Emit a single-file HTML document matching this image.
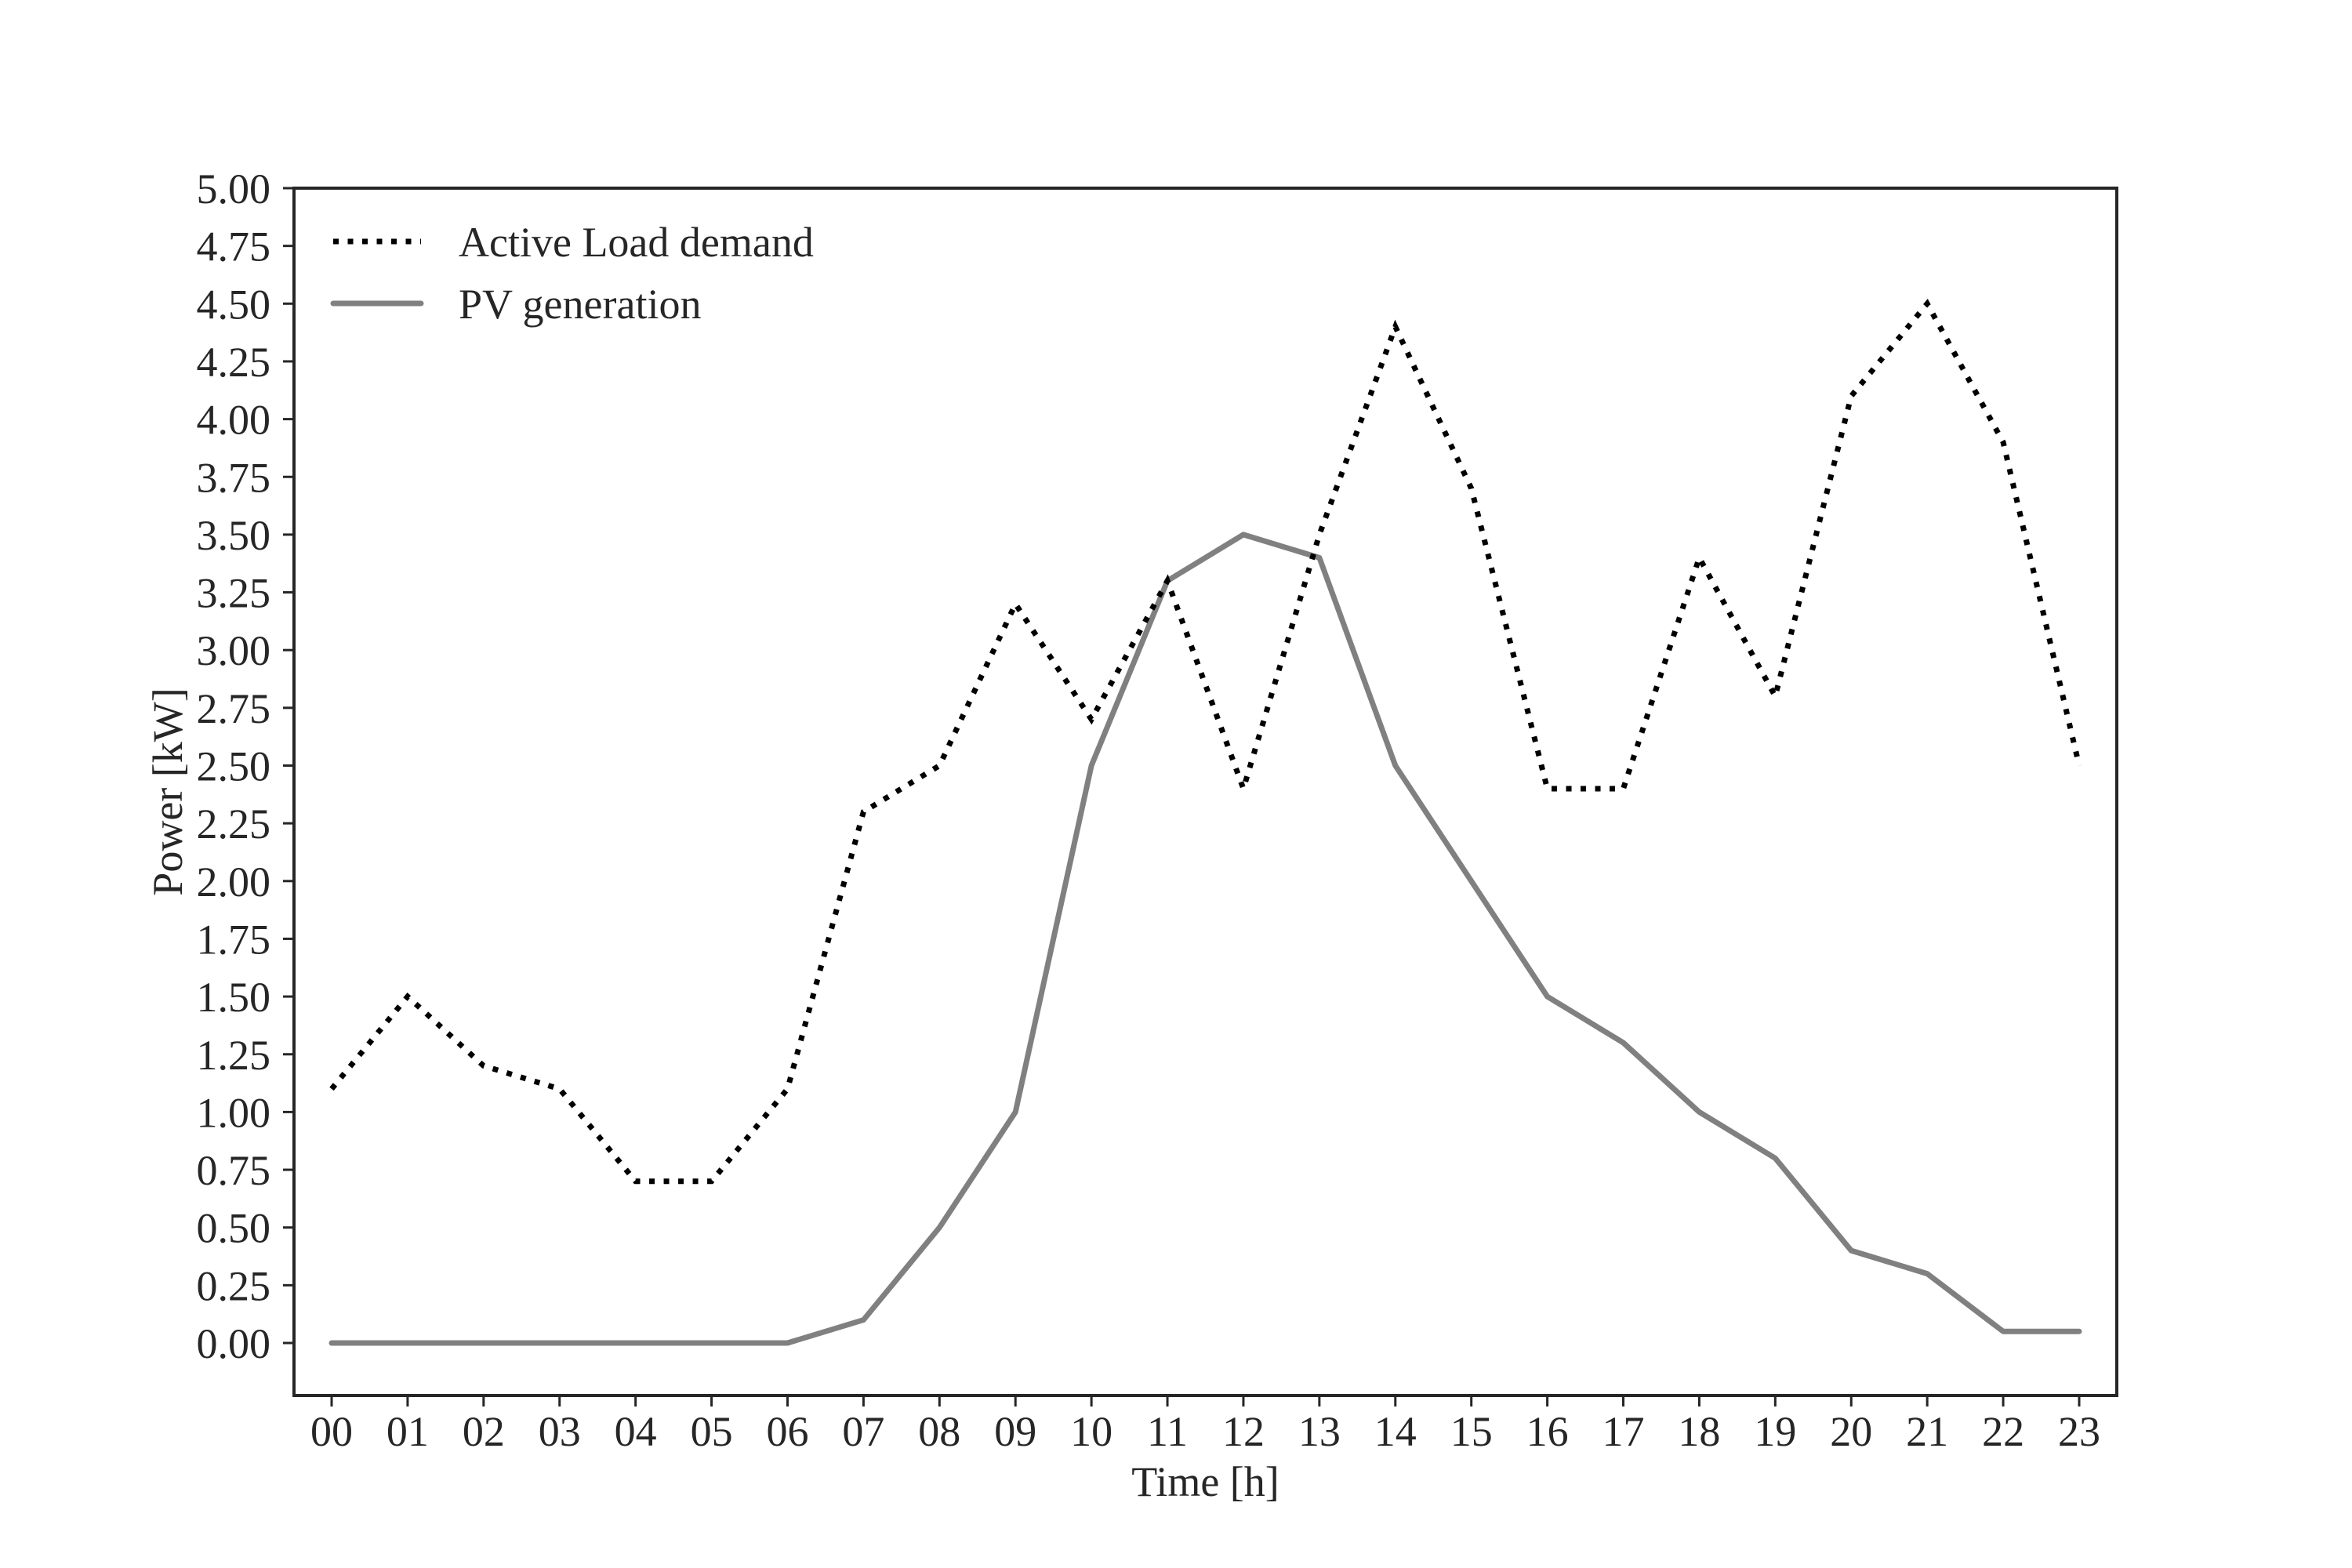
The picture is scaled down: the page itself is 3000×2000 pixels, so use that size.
<!DOCTYPE html>
<html><head><meta charset="utf-8"><style>
html,body{margin:0;padding:0;background:#fff;}
svg{display:block;}
text{font-family:"Liberation Serif",serif;fill:#262626;}
</style></head><body>
<svg id="chart" width="3000" height="2000" viewBox="0 0 3000 2000" xmlns="http://www.w3.org/2000/svg">
<rect x="0" y="0" width="3000" height="2000" fill="#fff"/>
<g id="plot"></g>
</svg>
<script>
const hours = ["00","01","02","03","04","05","06","07","08","09","10","11","12","13","14","15","16","17","18","19","20","21","22","23"];
const loadDemand = [1.1,1.5,1.2,1.1,0.7,0.7,1.1,2.3,2.5,3.2,2.7,3.3,2.4,3.5,4.4,3.7,2.4,2.4,3.4,2.8,4.1,4.5,3.9,2.5];
const pvGeneration = [0,0,0,0,0,0,0,0.1,0.5,1.0,2.5,3.3,3.5,3.4,2.5,2.0,1.5,1.3,1.0,0.8,0.4,0.3,0.05,0.05];
const yTicks = [0,0.25,0.5,0.75,1,1.25,1.5,1.75,2,2.25,2.5,2.75,3,3.25,3.5,3.75,4,4.25,4.5,4.75,5];

const NS="http://www.w3.org/2000/svg";
const g=document.getElementById('plot');
const L=375,R=2700,T=240,B=1780;
const X0=423,X23=2652,Y0=1713,Y5=240;
function xs(i){return X0+(X23-X0)*i/(hours.length-1);}
function ys(v){return Y0+(Y5-Y0)*v/5;}
function mk(tag,attrs){const e=document.createElementNS(NS,tag);for(const k in attrs)e.setAttribute(k,attrs[k]);g.appendChild(e);return e;}

yTicks.forEach(v=>{
  const y=ys(v);
  const t=mk('line',{x1:L-14,x2:L,y1:y,y2:y,stroke:'#262626','stroke-width':3});
  
  
  const lb=mk('text',{x:345,y:y+19,'text-anchor':'end','font-size':54});
  lb.textContent=v.toFixed(2);
  
  
});
hours.forEach((h,i)=>{
  const x=xs(i);
  const t=mk('line',{x1:x,x2:x,y1:B,y2:B+14,stroke:'#262626','stroke-width':3});
  
  
  const lb=mk('text',{x:x,y:1844,'text-anchor':'middle','font-size':54});
  lb.textContent=h;
  
  
});
function pts(arr){return arr.map((v,i)=>xs(i)+','+ys(v)).join(' ');}
const pv=mk('polyline',{points:pts(pvGeneration),fill:'none',stroke:'#808080','stroke-width':7,'stroke-linecap':'round','stroke-linejoin':'round'});


const ld=mk('polyline',{points:pts(loadDemand),fill:'none',stroke:'#000','stroke-width':7,'stroke-dasharray':'7 11.5'});


const fr=mk('rect',{x:L,y:T,width:R-L,height:B-T,fill:'none',stroke:'#262626','stroke-width':4});


const l1=mk('line',{x1:425,x2:537,y1:308,y2:308,stroke:'#000','stroke-width':7,'stroke-dasharray':'7 11.5'});


const t1=mk('text',{x:585,y:327,'font-size':54});
t1.textContent='Active Load demand';


const l2=mk('line',{x1:425,x2:537,y1:387,y2:387,stroke:'#808080','stroke-width':7,'stroke-linecap':'round'});


const t2=mk('text',{x:585,y:406,'font-size':54});
t2.textContent='PV generation';


const xt=mk('text',{x:(L+R)/2,y:1908,'text-anchor':'middle','font-size':54});
xt.textContent='Time [h]';


const yt=mk('text',{x:0,y:0,'text-anchor':'middle','font-size':54,transform:'translate(232,'+((T+B)/2)+') rotate(-90)'});
yt.textContent='Power [kW]';


</script>
</body></html>
